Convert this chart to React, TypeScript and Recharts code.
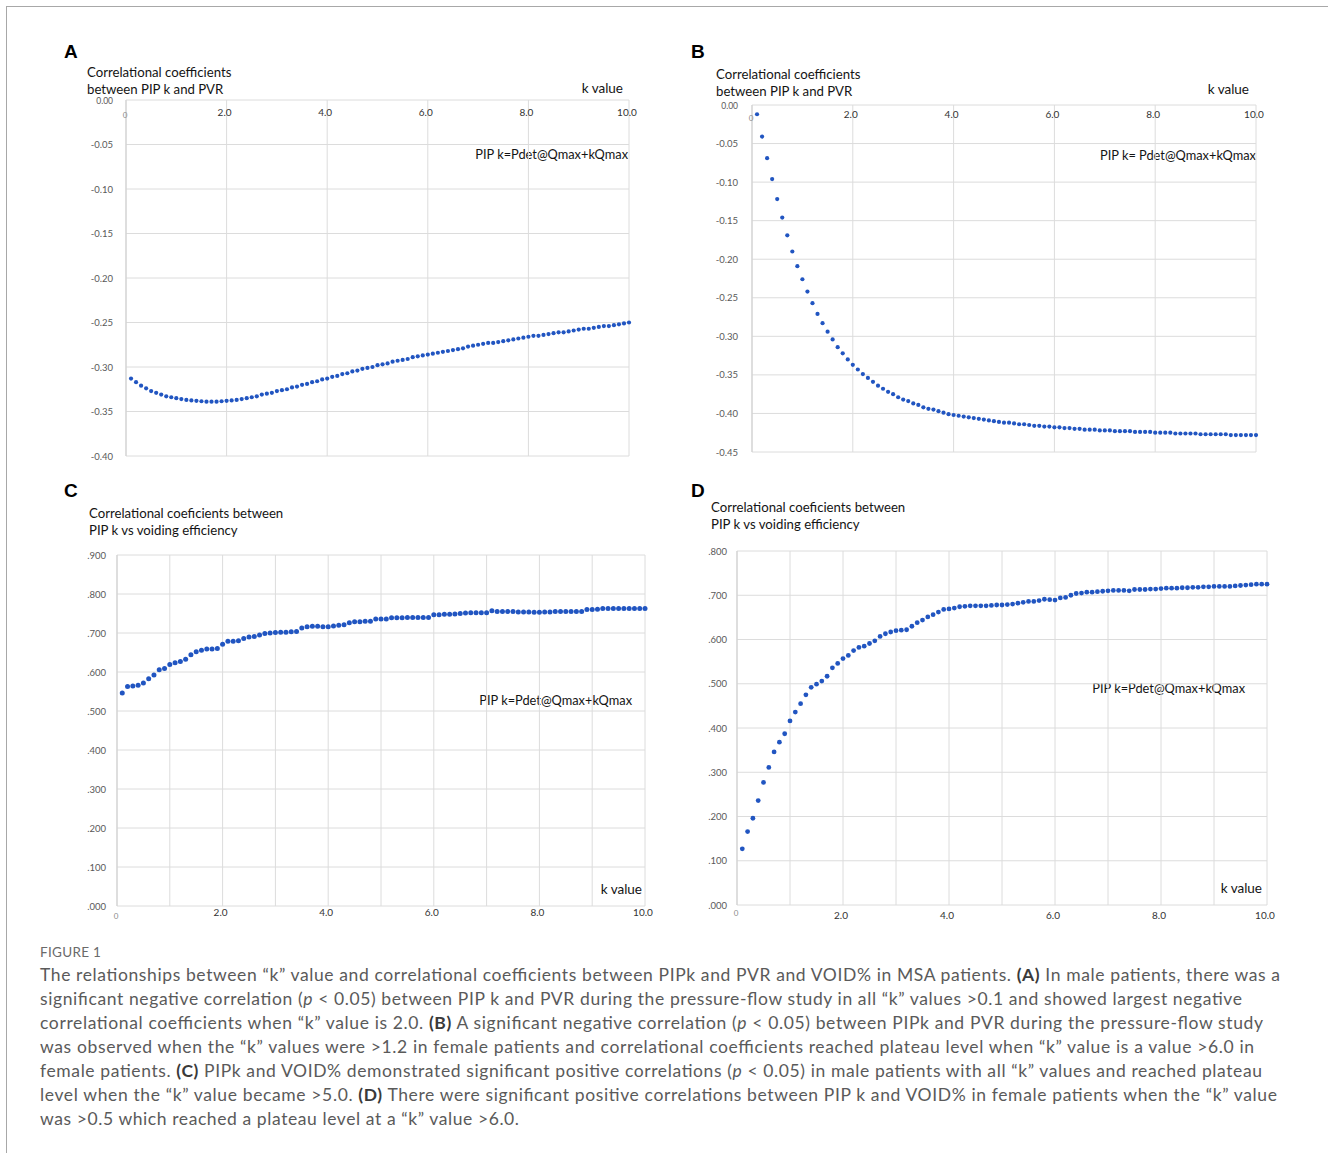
import React from "react";
import { CartesianGrid, Scatter, ScatterChart, XAxis, YAxis } from "recharts";

// k values shared by all four panels
const K_VALUES = [
  0.1, 0.2, 0.3, 0.4, 0.5, 0.6, 0.7, 0.8, 0.9, 1.0,
  1.1, 1.2, 1.3, 1.4, 1.5, 1.6, 1.7, 1.8, 1.9, 2.0,
  2.1, 2.2, 2.3, 2.4, 2.5, 2.6, 2.7, 2.8, 2.9, 3.0,
  3.1, 3.2, 3.3, 3.4, 3.5, 3.6, 3.7, 3.8, 3.9, 4.0,
  4.1, 4.2, 4.3, 4.4, 4.5, 4.6, 4.7, 4.8, 4.9, 5.0,
  5.1, 5.2, 5.3, 5.4, 5.5, 5.6, 5.7, 5.8, 5.9, 6.0,
  6.1, 6.2, 6.3, 6.4, 6.5, 6.6, 6.7, 6.8, 6.9, 7.0,
  7.1, 7.2, 7.3, 7.4, 7.5, 7.6, 7.7, 7.8, 7.9, 8.0,
  8.1, 8.2, 8.3, 8.4, 8.5, 8.6, 8.7, 8.8, 8.9, 9.0,
  9.1, 9.2, 9.3, 9.4, 9.5, 9.6, 9.7, 9.8, 9.9, 10.0,
];

// A: PIP k vs PVR, male
const PVR_MALE = [
  -0.313, -0.317, -0.321, -0.324, -0.327, -0.329, -0.331, -0.333, -0.334, -0.335,
  -0.336, -0.337, -0.3375, -0.338, -0.3385, -0.339, -0.339, -0.339, -0.3385, -0.338,
  -0.3375, -0.337, -0.336, -0.335, -0.334, -0.333, -0.331, -0.33, -0.329, -0.327,
  -0.326, -0.325, -0.323, -0.322, -0.32, -0.319, -0.317, -0.316, -0.314, -0.313,
  -0.311, -0.31, -0.308, -0.307, -0.305, -0.304, -0.302, -0.301, -0.3, -0.298,
  -0.297, -0.296, -0.294, -0.293, -0.292, -0.291, -0.289, -0.288, -0.287, -0.286,
  -0.285, -0.284, -0.283, -0.282, -0.281, -0.28, -0.279, -0.277, -0.276, -0.275,
  -0.274, -0.273, -0.273, -0.272, -0.271, -0.27, -0.269, -0.268, -0.267, -0.266,
  -0.265, -0.265, -0.264, -0.263, -0.262, -0.261, -0.261, -0.26, -0.259, -0.258,
  -0.257, -0.257, -0.256, -0.255, -0.254, -0.254, -0.253, -0.252, -0.251, -0.25,
];

// B: PIP k vs PVR, female
const PVR_FEMALE = [
  -0.012, -0.041, -0.069, -0.096, -0.122, -0.146, -0.169, -0.19, -0.209, -0.226,
  -0.242, -0.257, -0.271, -0.283, -0.294, -0.304, -0.314, -0.322, -0.33, -0.337,
  -0.343, -0.349, -0.354, -0.359, -0.364, -0.368, -0.372, -0.375, -0.379, -0.382,
  -0.384, -0.387, -0.389, -0.392, -0.394, -0.395, -0.397, -0.399, -0.401, -0.402,
  -0.403, -0.404, -0.405, -0.406, -0.407, -0.408, -0.409, -0.41, -0.411, -0.412,
  -0.412, -0.413, -0.414, -0.414, -0.415, -0.416, -0.416, -0.417, -0.417, -0.418,
  -0.418, -0.419, -0.419, -0.42, -0.42, -0.421, -0.421, -0.421, -0.422, -0.422,
  -0.422, -0.423, -0.423, -0.423, -0.423, -0.424, -0.424, -0.424, -0.424, -0.425,
  -0.425, -0.425, -0.425, -0.426, -0.426, -0.426, -0.426, -0.426, -0.427, -0.427,
  -0.427, -0.427, -0.427, -0.427, -0.428, -0.428, -0.428, -0.428, -0.428, -0.428,
];

// C: PIP k vs voiding efficiency, male
const VOID_MALE = [
  0.546, 0.563, 0.564, 0.566, 0.572, 0.583, 0.592, 0.606, 0.609, 0.619,
  0.624, 0.627, 0.633, 0.644, 0.652, 0.656, 0.659, 0.659, 0.66, 0.671,
  0.679, 0.679, 0.68, 0.686, 0.69, 0.691, 0.695, 0.699, 0.7, 0.701,
  0.702, 0.702, 0.703, 0.704, 0.713, 0.716, 0.717, 0.717, 0.716, 0.716,
  0.718, 0.72, 0.721, 0.726, 0.729, 0.729, 0.73, 0.73, 0.736, 0.736,
  0.736, 0.739, 0.739, 0.739, 0.74, 0.74, 0.74, 0.74, 0.74, 0.747,
  0.747, 0.748, 0.748, 0.749, 0.75, 0.751, 0.752, 0.752, 0.752, 0.752,
  0.757, 0.755, 0.755, 0.755, 0.755, 0.754, 0.754, 0.754, 0.753, 0.753,
  0.754, 0.754, 0.755, 0.755, 0.755, 0.755, 0.755, 0.755, 0.76, 0.76,
  0.761, 0.763, 0.763, 0.763, 0.763, 0.763, 0.763, 0.763, 0.763, 0.763,
];

// D: PIP k vs voiding efficiency, female
const VOID_FEMALE = [
  0.127, 0.166, 0.196, 0.236, 0.277, 0.311, 0.346, 0.368, 0.387, 0.416,
  0.436, 0.455, 0.475, 0.492, 0.499, 0.506, 0.517, 0.536, 0.546, 0.557,
  0.564, 0.575, 0.582, 0.585, 0.591, 0.597, 0.607, 0.613, 0.617, 0.62,
  0.621, 0.622, 0.63, 0.638, 0.644, 0.651, 0.656, 0.662, 0.668, 0.669,
  0.671, 0.674, 0.675, 0.676, 0.676, 0.676, 0.676, 0.677, 0.678, 0.678,
  0.679, 0.68, 0.682, 0.684, 0.686, 0.686, 0.688, 0.691, 0.69, 0.689,
  0.694, 0.695, 0.7, 0.704, 0.705, 0.707, 0.707, 0.708, 0.709, 0.71,
  0.711, 0.711, 0.711, 0.71, 0.713, 0.713, 0.713, 0.714, 0.714, 0.715,
  0.716, 0.716, 0.716, 0.717, 0.717, 0.718, 0.718, 0.719, 0.719, 0.72,
  0.72, 0.72, 0.72, 0.721, 0.722, 0.723, 0.724, 0.725, 0.725, 0.725,
];

const PVR_TICKS_A = [0, -0.05, -0.1, -0.15, -0.2, -0.25, -0.3, -0.35, -0.4];
const PVR_TICKS_B = [0, -0.05, -0.1, -0.15, -0.2, -0.25, -0.3, -0.35, -0.4, -0.45];
const VOID_TICKS_C = [0, 0.1, 0.2, 0.3, 0.4, 0.5, 0.6, 0.7, 0.8, 0.9];
const VOID_TICKS_D = [0, 0.1, 0.2, 0.3, 0.4, 0.5, 0.6, 0.7, 0.8];
const K_TICKS_EVEN = [0, 2, 4, 6, 8, 10];
const K_TICKS_ALL = [0, 1, 2, 3, 4, 5, 6, 7, 8, 9, 10];

const DOT_COLOR = "#2155c1";
const GRID = "#dcdcdc";
const CHART_FONT = "Lato, 'Open Sans', sans-serif";

const pvrFmt = (v: number) => v.toFixed(2);
const voidFmt = (v: number) => v.toFixed(3).replace(/^0/, "");

const toRows = (values: number[]) => K_VALUES.map((k, i) => ({ k, v: values[i] }));

interface PanelCfg {
  letter: string;
  letterX: number;
  letterY: number;
  chartLeft: number;
  plotLeft: number;
  plotTop: number;
  plotRight: number;
  plotBottom: number;
  axisOnTop: boolean;
  xLabelY: number;
  zeroLabelY: number;
  yTicks: number[];
  xTicks: number[];
  yFmt: (v: number) => string;
  yGap: number;
  dotR: number;
  title: string[];
  titleX: number;
  titleY: number;
  kLabel: { right: number; y: number };
  formula: { text: string; right: number; y: number };
  values: number[];
}

function Panel({ cfg }: { cfg: PanelCfg }) {
  const pad = 20; // svg extends this far above and below the plot area
  const axisH = 1;
  const marginRight = 10;
  const svgTop = cfg.plotTop - pad;
  const width = cfg.plotRight - cfg.chartLeft + marginRight;
  const height = cfg.plotBottom - cfg.plotTop + pad * 2;
  const yAxisWidth = cfg.plotLeft - cfg.chartLeft;
  const yDomain = [Math.min(...cfg.yTicks), Math.max(...cfg.yTicks)];
  const margin = cfg.axisOnTop
    ? { top: pad - axisH, right: marginRight, bottom: pad, left: 0 }
    : { top: pad, right: marginRight, bottom: pad - axisH, left: 0 };

  const xTick = (props: any) => {
    const { x, payload } = props;
    const v = Number(payload.value);
    if (v === 0) {
      return (
        <text x={x - 1} y={cfg.zeroLabelY - svgTop} textAnchor="middle" dominantBaseline="central"
          fontSize={8} fill="#8a8a8a" fontFamily={CHART_FONT}>0</text>
      );
    }
    if (v % 2 !== 0) return <g />;
    return (
      <text x={x - 2} y={cfg.xLabelY - svgTop} textAnchor="middle" dominantBaseline="central"
        fontSize={10} fill="#333" fontFamily={CHART_FONT}>{v.toFixed(1)}</text>
    );
  };

  const yTick = (props: any) => {
    const { y, payload } = props;
    const v = Number(payload.value);
    const isTop = v === Math.max(...cfg.yTicks);
    return (
      <text x={yAxisWidth - cfg.yGap} y={y + (isTop && cfg.axisOnTop ? 1 : 0)} textAnchor="end"
        dominantBaseline="central" fontSize={isTop && cfg.axisOnTop ? 8.5 : 9.5}
        fill="#595959" fontFamily={CHART_FONT}>{cfg.yFmt(v)}</text>
    );
  };

  const textStyle: React.CSSProperties = {
    position: "absolute",
    fontFamily: CHART_FONT,
    color: "#141414",
    whiteSpace: "nowrap",
  };

  return (
    <>
      <div style={{ ...textStyle, left: cfg.letterX, top: cfg.letterY - 12, fontSize: 19, lineHeight: "24px",
        fontWeight: 700, fontFamily: "'Liberation Sans', Arial, sans-serif", color: "#000" }}>{cfg.letter}</div>
      {cfg.title.map((line, i) => (
        <div key={i} style={{ ...textStyle, left: cfg.titleX, top: cfg.titleY + i * 17 - 9, fontSize: 13.2, lineHeight: "17px" }}>
          {line}
        </div>
      ))}
      <div style={{ ...textStyle, left: cfg.kLabel.right - 200, width: 200, textAlign: "right",
        top: cfg.kLabel.y - 9, fontSize: 13.5, lineHeight: "18px" }}>k value</div>
      <div style={{ ...textStyle, left: cfg.formula.right - 300, width: 300, textAlign: "right",
        top: cfg.formula.y - 9, fontSize: 12.8, lineHeight: "18px" }}>{cfg.formula.text}</div>
      <div style={{ position: "absolute", left: cfg.chartLeft, top: svgTop }}>
        <ScatterChart width={width} height={height} margin={margin}>
          <CartesianGrid stroke={GRID} strokeWidth={1} />
          <XAxis
            type="number"
            dataKey="k"
            domain={[0, 10]}
            ticks={cfg.xTicks}
            interval={0}
            orientation={cfg.axisOnTop ? "top" : "bottom"}
            height={axisH}
            axisLine={false}
            tickLine={false}
            tick={xTick}
          />
          <YAxis
            type="number"
            dataKey="v"
            domain={yDomain}
            ticks={cfg.yTicks}
            interval={0}
            width={yAxisWidth}
            axisLine={{ stroke: "#cfcfcf" }}
            tickLine={false}
            tick={yTick}
          />
          <Scatter
            data={toRows(cfg.values)}
            isAnimationActive={false}
            shape={(p: any) => <circle cx={p.cx} cy={p.cy} r={cfg.dotR} fill={DOT_COLOR} />}
          />
        </ScatterChart>
      </div>
    </>
  );
}

const PANELS: PanelCfg[] = [
  {
    letter: "A", letterX: 64, letterY: 52,
    chartLeft: 60, plotLeft: 126, plotTop: 100, plotRight: 629, plotBottom: 456,
    axisOnTop: true, xLabelY: 112, zeroLabelY: 115,
    yTicks: PVR_TICKS_A, xTicks: K_TICKS_EVEN, yFmt: pvrFmt, yGap: 13, dotR: 2.1,
    title: ["Correlational coefficients", "between PIP k and PVR"], titleX: 87, titleY: 72.5,
    kLabel: { right: 623, y: 88 },
    formula: { text: "PIP k=Pdet@Qmax+kQmax", right: 628, y: 154 },
    values: PVR_MALE,
  },
  {
    letter: "B", letterX: 691, letterY: 52,
    chartLeft: 690, plotLeft: 752, plotTop: 105, plotRight: 1256, plotBottom: 452,
    axisOnTop: true, xLabelY: 114, zeroLabelY: 118,
    yTicks: PVR_TICKS_B, xTicks: K_TICKS_EVEN, yFmt: pvrFmt, yGap: 14, dotR: 2.1,
    title: ["Correlational coefficients", "between PIP k and PVR"], titleX: 716, titleY: 75,
    kLabel: { right: 1249, y: 89 },
    formula: { text: "PIP k= Pdet@Qmax+kQmax", right: 1256, y: 155 },
    values: PVR_FEMALE,
  },
  {
    letter: "C", letterX: 64, letterY: 491,
    chartLeft: 60, plotLeft: 117, plotTop: 555, plotRight: 645, plotBottom: 906,
    axisOnTop: false, xLabelY: 912, zeroLabelY: 916,
    yTicks: VOID_TICKS_C, xTicks: K_TICKS_ALL, yFmt: voidFmt, yGap: 11, dotR: 2.5,
    title: ["Correlational coeficients between", "PIP k vs voiding efficiency"], titleX: 89, titleY: 514,
    kLabel: { right: 642, y: 889 },
    formula: { text: "PIP k=Pdet@Qmax+kQmax", right: 632, y: 700 },
    values: VOID_MALE,
  },
  {
    letter: "D", letterX: 691, letterY: 491,
    chartLeft: 690, plotLeft: 737, plotTop: 551, plotRight: 1267, plotBottom: 905,
    axisOnTop: false, xLabelY: 915, zeroLabelY: 913,
    yTicks: VOID_TICKS_D, xTicks: K_TICKS_ALL, yFmt: voidFmt, yGap: 10, dotR: 2.4,
    title: ["Correlational coeficients between", "PIP k vs voiding efficiency"], titleX: 711, titleY: 508,
    kLabel: { right: 1262, y: 888 },
    formula: { text: "PIP k=Pdet@Qmax+kQmax", right: 1245, y: 688 },
    values: VOID_FEMALE,
  },
];

const B = ({ children }: { children: React.ReactNode }) => (
  <tspan fontWeight={700} fill="#3a3a3a">{children}</tspan>
);
const P = () => <tspan fontStyle="italic">p</tspan>;

const CAPTION: { width: number; content: React.ReactNode }[] = [
  { width: 1240, content: <>The relationships between “k” value and correlational coefficients between PIPk and PVR and VOID% in MSA patients. <B>(A)</B> In male patients, there was a</> },
  { width: 1202, content: <>significant negative correlation (<P /> &lt; 0.05) between PIP k and PVR during the pressure-flow study in all “k” values &gt;0.1 and showed largest negative</> },
  { width: 1223, content: <>correlational coefficients when “k” value is 2.0. <B>(B)</B> A significant negative correlation (<P /> &lt; 0.05) between PIPk and PVR during the pressure-flow study</> },
  { width: 1214, content: <>was observed when the “k” values were &gt;1.2 in female patients and correlational coefficients reached plateau level when “k” value is a value &gt;6.0 in</> },
  { width: 1222, content: <>female patients. <B>(C)</B> PIPk and VOID% demonstrated significant positive correlations (<P /> &lt; 0.05) in male patients with all “k” values and reached plateau</> },
  { width: 1237, content: <>level when the “k” value became &gt;5.0. <B>(D)</B> There were significant positive correlations between PIP k and VOID% in female patients when the “k” value</> },
  { width: 479, content: <>was &gt;0.5 which reached a plateau level at a “k” value &gt;6.0.</> },
];

export default function App() {
  return (
    <div style={{ position: "absolute", left: 0, top: 0, width: 1328, height: 1153, background: "#fff", overflow: "hidden" }}>
      <div style={{ position: "absolute", left: 6, top: 6, width: 1330, height: 1160,
        borderTop: "1px solid #a8a8a8", borderLeft: "1px solid #a8a8a8" }} />
      {PANELS.map((cfg) => (
        <Panel key={cfg.letter} cfg={cfg} />
      ))}
      <svg style={{ position: "absolute", left: 0, top: 930 }} width={1328} height={220}>
        <text x={40} y={27} fontFamily="Lato, 'Open Sans', sans-serif" fontSize={13.5} fill="#6a6a6a" letterSpacing={0.3}>
          FIGURE 1
        </text>
        {CAPTION.map((line, i) => (
          <text key={i} x={40} y={51 + i * 24} textLength={line.width} lengthAdjust="spacing"
            fontFamily="Lato, 'Open Sans', sans-serif" fontSize={17.5} fill="#5a5a5a">
            {line.content}
          </text>
        ))}
      </svg>
    </div>
  );
}
